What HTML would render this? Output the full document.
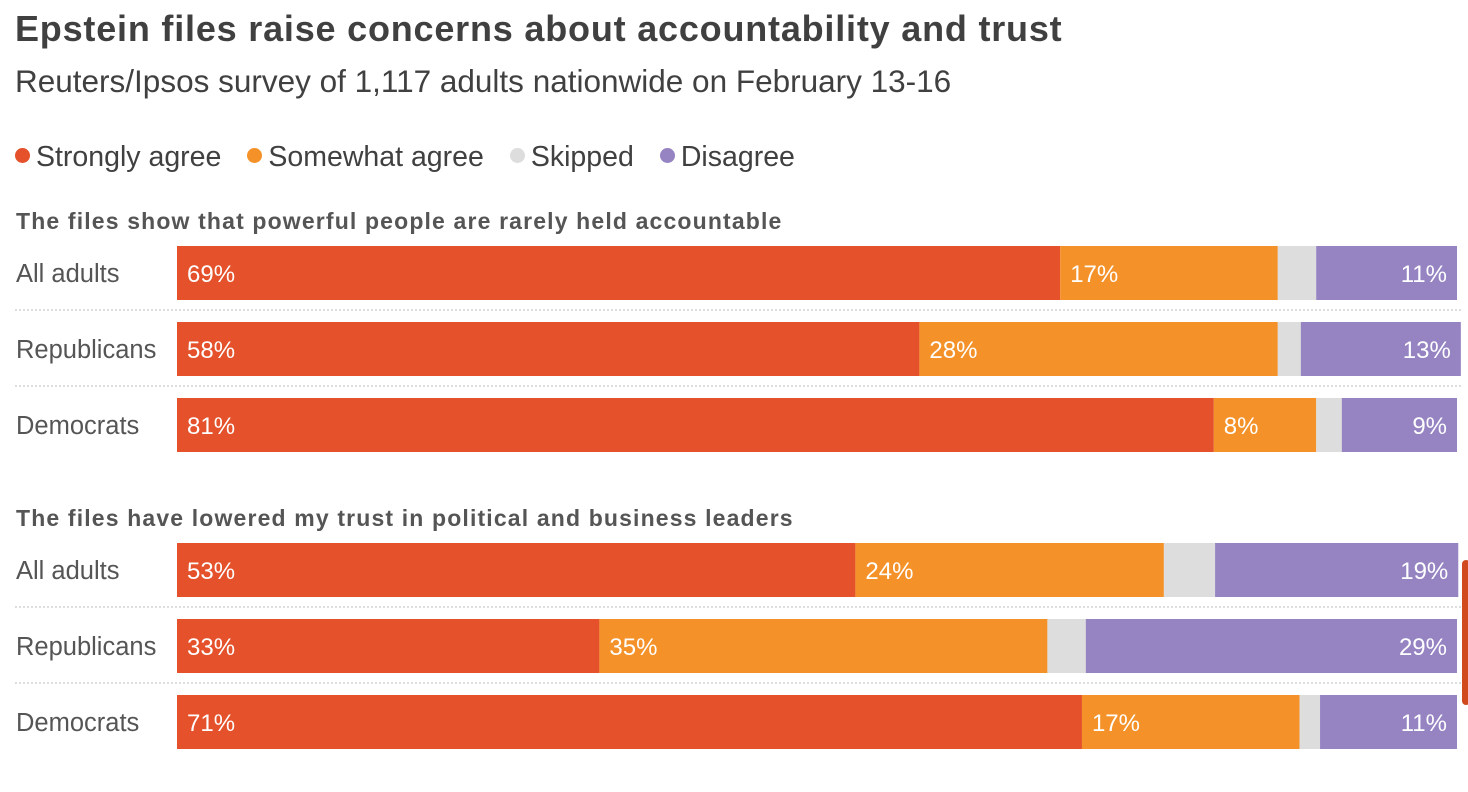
<!DOCTYPE html>
<html><head><meta charset="utf-8"><style>
body{margin:0;width:1468px;height:792px;background:#fff;font-family:"Liberation Sans",sans-serif;overflow:hidden;position:relative}
.t{position:absolute;white-space:nowrap}
</style></head><body>
<div class="t" style="left:15px;top:8px;font-size:36px;letter-spacing:0.8px;font-weight:bold;color:#404040">Epstein files raise concerns about accountability and trust</div>
<div class="t" style="left:15px;top:63px;font-size:31.5px;color:#404040">Reuters/Ipsos survey of 1,117 adults nationwide on February 13-16</div>
<div id="legend" class="t" style="left:15px;top:141px;font-size:28.5px;color:#404040"></div>
<svg id="chart" width="1468" height="792" style="position:absolute;left:0;top:0"></svg>
<div style="position:absolute;left:1462px;top:560px;width:8px;height:145px;background:#D04A1E;border-radius:4px"></div>
<script>
const series=["Strongly agree","Somewhat agree","Skipped","Disagree"];
const colors=["#E4512A","#F49128","#DDDDDD","#9583C2"];
const groups=["All adults","Republicans","Democrats"];
const questions=["The files show that powerful people are rarely held accountable","The files have lowered my trust in political and business leaders"];
const strongly=[[69,58,81],[53,33,70.7]];
const somewhat=[[17,28,8],[24.1,35,17]];
const skipped=[[3,1.8,2],[4,3,1.6]];
const disagree=[[11,12.5,9],[19,29,10.7]];

const NS="http://www.w3.org/2000/svg";
const svg=document.getElementById('chart');
const x0=177,scale=12.8;
const xs=v=>x0+v*scale;
const qTop=[221,518],rowTop=[[246,322,398],[543,619,695]],barH=54;
const lg=document.getElementById('legend');
series.forEach((s,i)=>{
  const sp=document.createElement('span');
  
  
  sp.style.marginRight='26px';
  sp.innerHTML='<span style="display:inline-block;width:15px;height:15px;border-radius:50%;background:'+colors[i]+';margin-right:6px;vertical-align:3px"></span>'+s;
  lg.appendChild(sp);
});
function txt(x,y,s,opt){
  const t=document.createElementNS(NS,'text');
  t.setAttribute('x',x);t.setAttribute('y',y);
  t.setAttribute('font-family','Liberation Sans, sans-serif');
  for(const k in opt)t.setAttribute(k,opt[k]);
  t.textContent=s;svg.appendChild(t);return t;
}
questions.forEach((q,qi)=>{
  const h=txt(16,qTop[qi]+8,q,{'font-size':23,'letter-spacing':1.15,'font-weight':'bold',fill:'#555'});
  
  
  groups.forEach((g,gi)=>{
    const y=rowTop[qi][gi];
    const lb=txt(16,y+36,g,{'font-size':25.5,fill:'#555'});
    
    
    if(gi<2){
      const l=document.createElementNS(NS,'line');
      l.setAttribute('x1',15);l.setAttribute('x2',1461);
      l.setAttribute('y1',y+64);l.setAttribute('y2',y+64);
      l.setAttribute('stroke','#bbb');l.setAttribute('stroke-dasharray','2,2');
      
      
      svg.appendChild(l);
    }
    const vals=[strongly[qi][gi],somewhat[qi][gi],skipped[qi][gi],disagree[qi][gi]];
    let acc=0;
    vals.forEach((v,si)=>{
      const r=document.createElementNS(NS,'rect');
      r.setAttribute('x',xs(acc));r.setAttribute('y',y);
      r.setAttribute('width',v*scale);r.setAttribute('height',barH);
      r.setAttribute('fill',colors[si]);
      
      
      svg.appendChild(r);
      const lab=Math.round(v)+'%';
      if(si<2){
        const t=txt(xs(acc)+10,y+36,lab,{'font-size':24,fill:'#fff'});
        
        
      } else if(si==3){
        const t=txt(xs(acc+v)-10,y+36,lab,{'font-size':24,fill:'#fff','text-anchor':'end'});
        
        
      }
      acc+=v;
    });
  });
});
</script>
</body></html>
